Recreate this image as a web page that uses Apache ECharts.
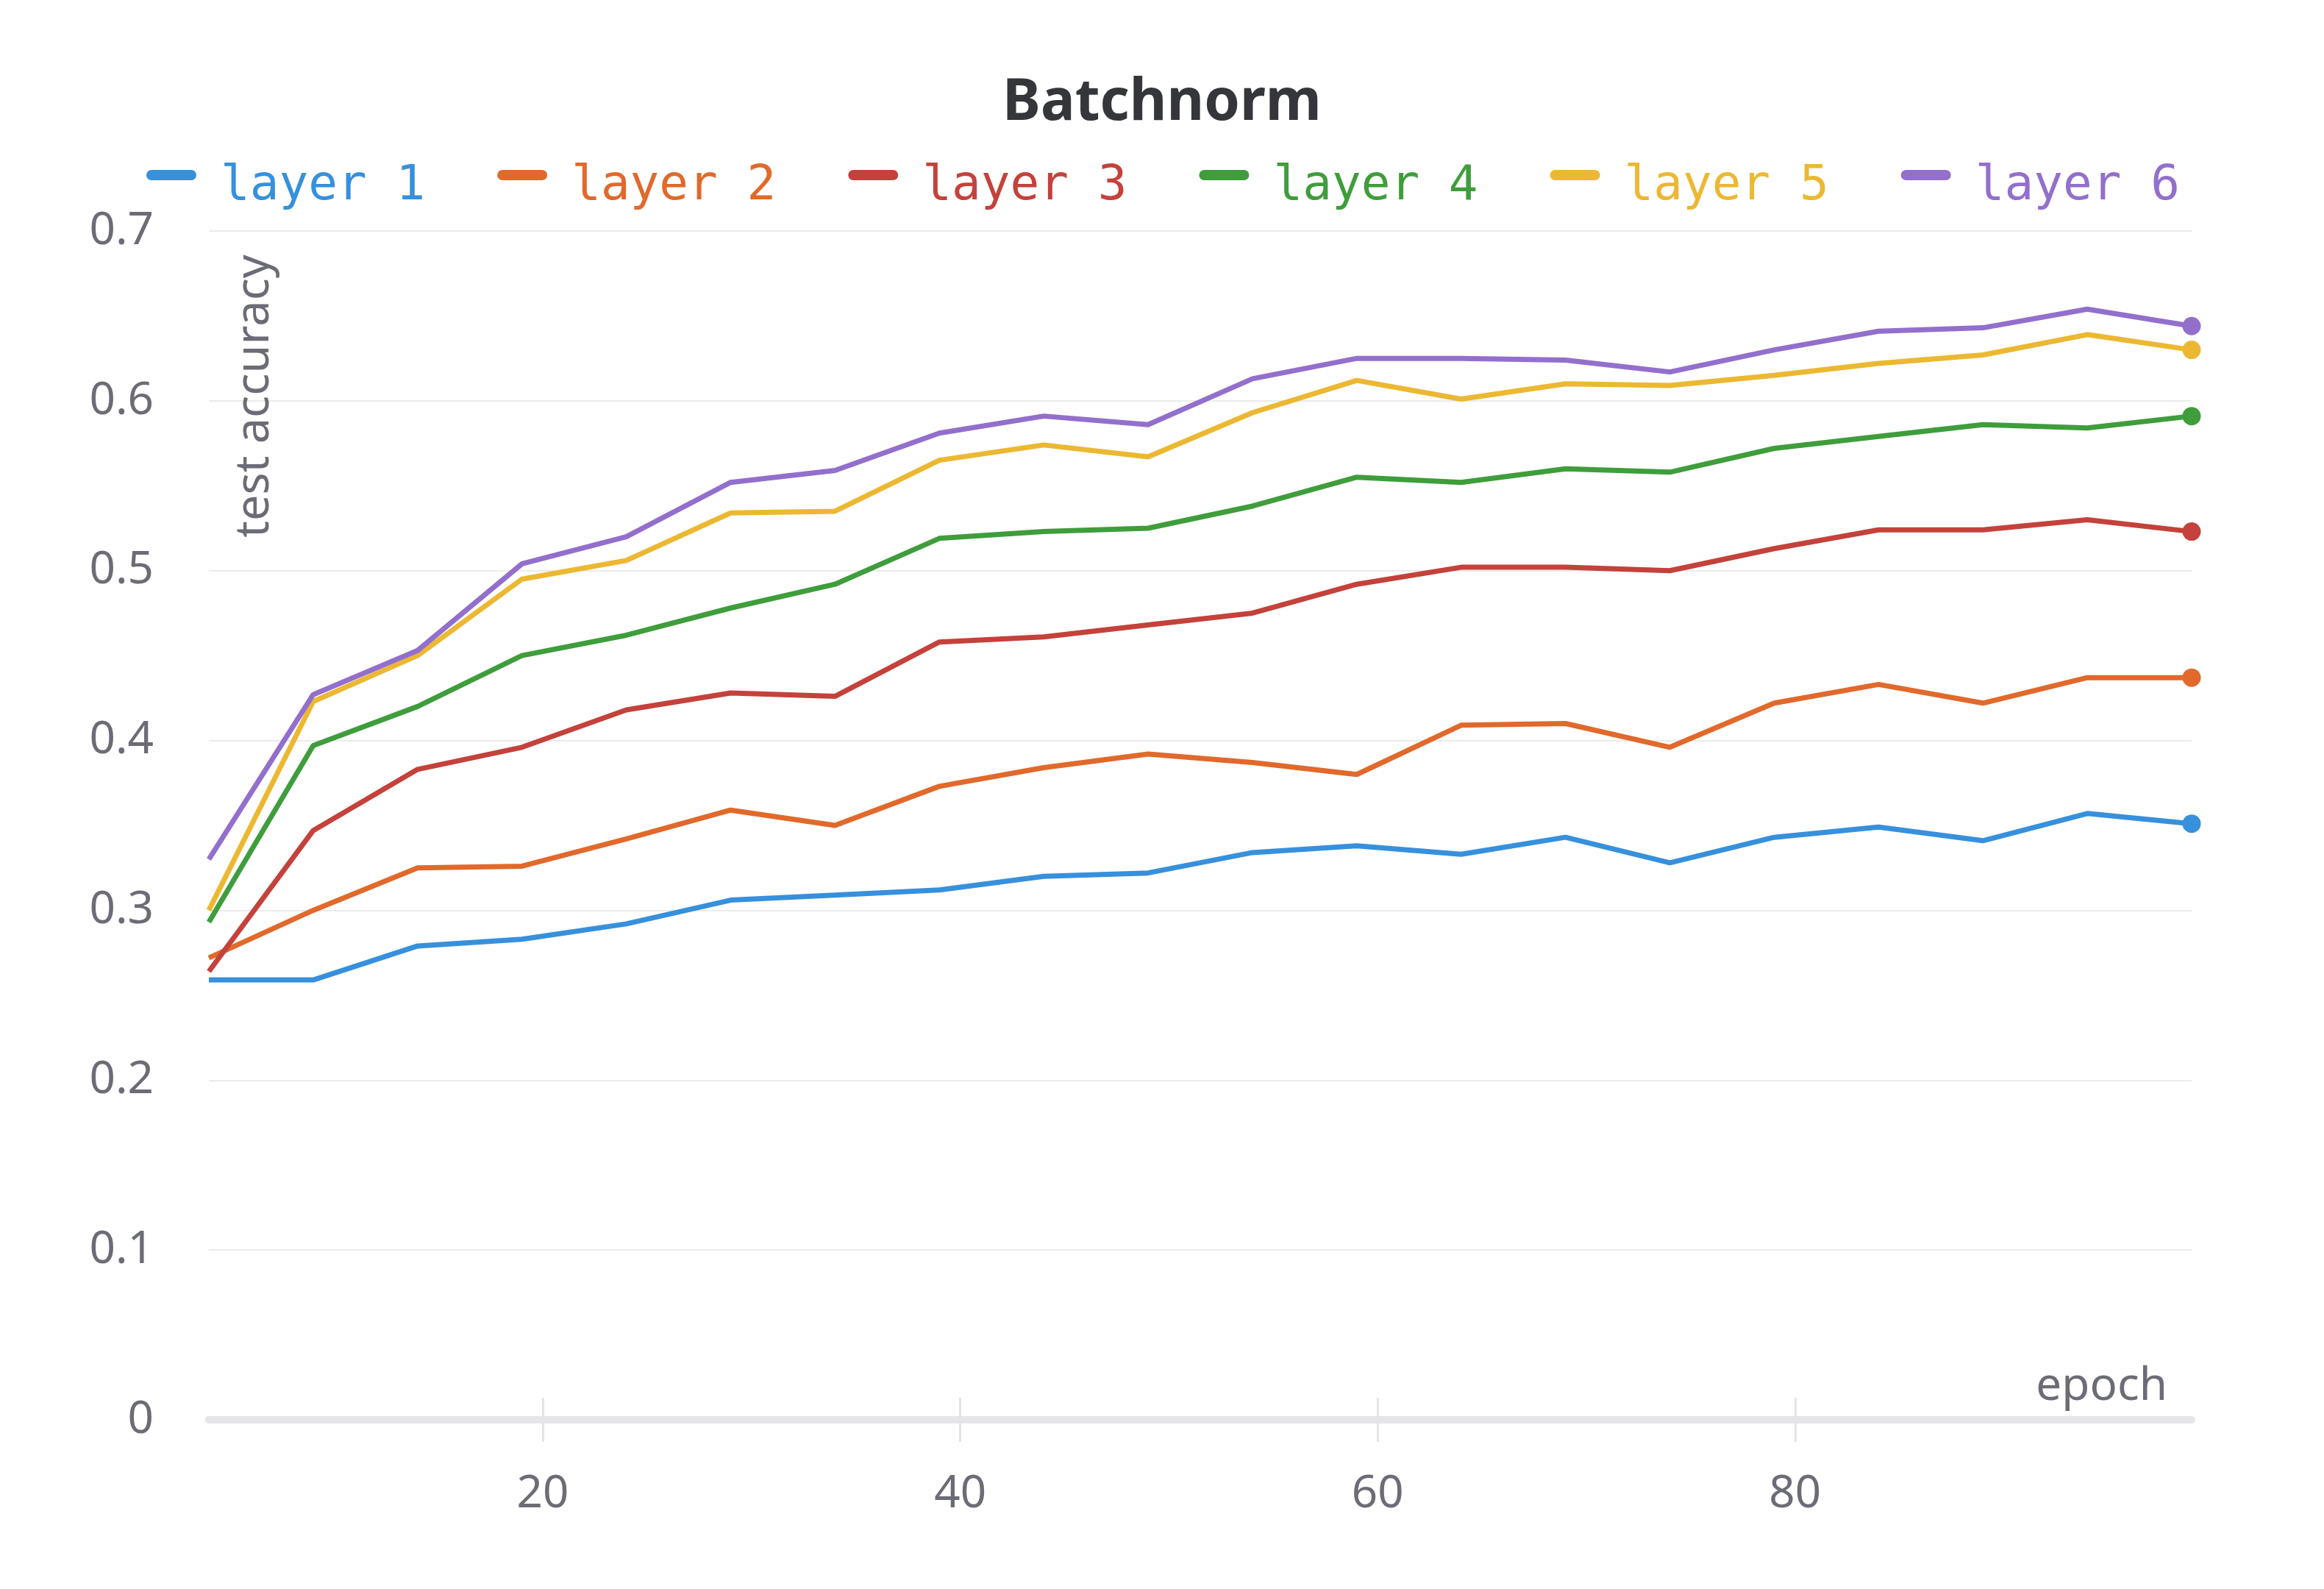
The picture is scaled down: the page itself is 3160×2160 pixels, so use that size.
<!DOCTYPE html>
<html>
<head>
<meta charset="utf-8">
<script src="https://cdn.jsdelivr.net/npm/echarts@6/dist/echarts.min.js"></script>
<style>
  html, body { margin: 0; padding: 0; background: #ffffff; }
  #chart { width: 3160px; height: 2160px; }
</style>
</head>
<body>
<div id="chart"></div>
<script>
const epochs = [4, 9, 14, 19, 24, 29, 34, 39, 44, 49, 54, 59, 64, 69, 74, 79, 84, 89, 94, 99];
const layer1 = [0.259, 0.259, 0.279, 0.283, 0.292, 0.306, 0.309, 0.312, 0.320, 0.322, 0.334, 0.338, 0.333, 0.343, 0.328, 0.343, 0.349, 0.341, 0.357, 0.351];
const layer2 = [0.272, 0.300, 0.325, 0.326, 0.342, 0.359, 0.350, 0.373, 0.384, 0.392, 0.387, 0.380, 0.409, 0.410, 0.396, 0.422, 0.433, 0.422, 0.437, 0.437];
const layer3 = [0.264, 0.347, 0.383, 0.396, 0.418, 0.428, 0.426, 0.458, 0.461, 0.468, 0.475, 0.492, 0.502, 0.502, 0.500, 0.513, 0.524, 0.524, 0.530, 0.523];
const layer4 = [0.293, 0.397, 0.420, 0.450, 0.462, 0.478, 0.492, 0.519, 0.523, 0.525, 0.538, 0.555, 0.552, 0.560, 0.558, 0.572, 0.579, 0.586, 0.584, 0.591];
const layer5 = [0.300, 0.423, 0.450, 0.495, 0.506, 0.534, 0.535, 0.565, 0.574, 0.567, 0.593, 0.612, 0.601, 0.610, 0.609, 0.615, 0.622, 0.627, 0.639, 0.630];
const layer6 = [0.330, 0.427, 0.453, 0.504, 0.520, 0.552, 0.559, 0.581, 0.591, 0.586, 0.613, 0.625, 0.625, 0.624, 0.617, 0.630, 0.641, 0.643, 0.654, 0.644];
const seriesNames = ['layer 1', 'layer 2', 'layer 3', 'layer 4', 'layer 5', 'layer 6'];
const seriesValues = [layer1, layer2, layer3, layer4, layer5, layer6];
const colors = ['#3790dc', '#e1692b', '#c4423b', '#3f9d3c', '#ecb832', '#936fcd'];
const xTickValues = [20, 40, 60, 80];
const titleText = 'Batchnorm';
const xAxisName = 'epoch';
const yAxisName = 'test accuracy';

const labelColor = '#6c6c76';
const sansFont = '"Noto Sans", "Open Sans", sans-serif';
// rounded bar in the upper part of a taller icon box (the lower line has no area)
const legendIcon = 'path://M7,0L61,0A7,7,0,0,1,61,14L7,14A7,7,0,0,1,7,0Z M0,46L68,46';

const chart = echarts.init(document.getElementById('chart'), null, { renderer: 'canvas' });

const series = seriesNames.map((name, i) => {
  const vals = seriesValues[i];
  const last = vals.length - 1;
  return {
    name: name,
    type: 'line',
    xAxisIndex: 0,
    yAxisIndex: 0,
    data: epochs.map((e, j) => [e, vals[j]]),
    showSymbol: true,
    showAllSymbol: true,
    symbol: 'circle',
    symbolSize: (v, p) => (p.dataIndex === last ? 25 : 0),
    lineStyle: { width: 7, color: colors[i] },
    itemStyle: { color: colors[i] },
    emphasis: { disabled: true },
    z: 3 + i
  };
});

const option = {
  animation: false,
  backgroundColor: '#ffffff',
  color: colors,
  title: {
    text: titleText,
    left: 'center',
    top: 97,
    textStyle: {
      fontFamily: sansFont,
      fontWeight: 'bold',
      fontSize: 78,
      color: '#35363a'
    }
  },
  legend: {
    left: 194,
    top: 216,
    itemWidth: 68,
    itemHeight: 46,
    itemGap: 98,
    icon: legendIcon,
    itemStyle: { borderWidth: 0 },
    data: seriesNames.map((n, i) => ({ name: n, textStyle: { color: colors[i] } })),
    textStyle: {
      fontFamily: '"DejaVu Sans Mono", "Liberation Mono", monospace',
      fontSize: 66,
      padding: [0, 0, 0, 28]
    },
    selectedMode: false
  },
  grid: {
    left: 284,
    right: 180,
    top: 314,
    bottom: 230,
    containLabel: false
  },
  xAxis: [
    {
      type: 'value',
      min: 4,
      max: 99,
      position: 'bottom',
      name: xAxisName,
      nameLocation: 'end',
      nameGap: -33,
      nameTextStyle: {
        fontFamily: sansFont,
        fontSize: 62,
        color: labelColor,
        align: 'right',
        verticalAlign: 'bottom',
        padding: [0, 0, 14, 0]
      },
      axisLine: { show: true, onZero: false, lineStyle: { color: '#e5e5e8', width: 10 } },
      axisTick: {
        show: true,
        inside: false,
        length: 30,
        customValues: xTickValues,
        lineStyle: { color: '#e5e5e8', width: 3 }
      },
      axisLabel: {
        show: true,
        customValues: xTickValues,
        margin: 70,
        fontFamily: sansFont,
        fontSize: 62,
        color: labelColor
      },
      splitLine: { show: false }
    },
    {
      type: 'value',
      min: 4,
      max: 99,
      position: 'bottom',
      axisLine: { show: false, onZero: false },
      axisTick: {
        show: true,
        inside: true,
        length: 30,
        customValues: xTickValues,
        lineStyle: { color: '#e5e5e8', width: 3 }
      },
      axisLabel: { show: false },
      splitLine: { show: false }
    }
  ],
  yAxis: {
    type: 'value',
    min: 0,
    max: 0.7,
    interval: 0.1,
    axisLine: { show: false },
    axisTick: { show: false },
    axisLabel: {
      margin: 75,
      fontFamily: sansFont,
      fontSize: 62,
      color: labelColor
    },
    splitLine: {
      show: true,
      lineStyle: { color: '#ebebeb', width: 2 }
    }
  },
  graphic: [
    {
      type: 'text',
      x: 347,
      y: 346,
      rotation: Math.PI / 2,
      style: {
        text: yAxisName,
        fontFamily: sansFont,
        fontSize: 63,
        fill: labelColor,
        align: 'right',
        verticalAlign: 'middle'
      },
      z: 10
    }
  ],
  series: series
};

chart.setOption(option);
</script>
</body>
</html>
